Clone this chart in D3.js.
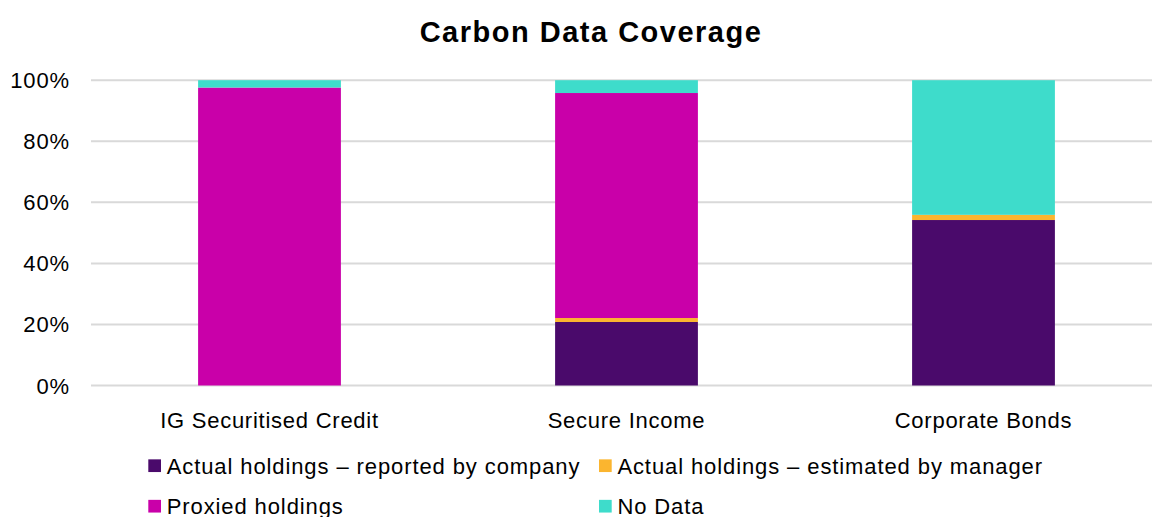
<!DOCTYPE html>
<html>
<head>
<meta charset="utf-8">
<script src="https://cdn.jsdelivr.net/npm/d3@7"></script>
<style>
  body { margin: 0; background: #fff; }
  text { font-family: Arial, "Liberation Sans", sans-serif; fill: #000; }
</style>
</head>
<body>
<script>
// chart data
const categories = ["IG Securitised Credit", "Secure Income", "Corporate Bonds"];
const seriesNames = ["Actual holdings \u2013 reported by company", "Actual holdings \u2013 estimated by manager", "Proxied holdings", "No Data"];
const reported = [0, 20.8, 54.2];
const estimated = [0, 1.3, 1.7];
const proxied = [97.6, 73.7, 0];
const noData = [2.4, 4.2, 44.1];
const yTicks = [0, 20, 40, 60, 80, 100];
const colors = ["#4a0a6b", "#fbb52f", "#c900a9", "#3edccb"];

const W = 1152, H = 517;

let svg = d3.select('body')
      .append('svg')
      .attr('width', W)
      .attr('height', H);

let rows = categories.map((c, i) => ({
  cat: c,
  s0: reported[i], s1: estimated[i], s2: proxied[i], s3: noData[i]
}));
let keys = ["s0", "s1", "s2", "s3"];
let stacked = d3.stack().keys(keys)(rows);

let x = d3.scaleBand().domain(categories).range([91, 1162]).padding(0);
let y = d3.scaleLinear().domain([0, 100]).range([385.5, 80.2]);

// gridlines
svg.append('g')
  .selectAll('line')
  .data(yTicks)
  .join('line')
  .attr('x1', 91).attr('x2', 1162)
  .attr('y1', d => y(d)).attr('y2', d => y(d))
  .style('stroke', '#d9d9d9')
  .style('stroke-width', 2);

// y tick labels
svg.append('g')
  .selectAll('text')
  .data(yTicks)
  .join('text')
  .attr('x', 70)
  .attr('y', d => y(d) + 8)
  .attr('text-anchor', 'end')
  .style('font-size', '22px')
  .style('letter-spacing', '0.9px')
  .text(d => d + '%');

// bars
let bw = x.bandwidth() * 0.4;
svg.append('g')
  .selectAll('g')
  .data(stacked)
  .join('g')
  .attr('fill', (d, i) => colors[i])
  .selectAll('rect')
  .data(d => d)
  .join('rect')
  .attr('x', d => x(d.data.cat) + (x.bandwidth() - bw) / 2)
  .attr('width', bw)
  .attr('y', d => y(d[1]))
  .attr('height', d => y(d[0]) - y(d[1]));

// category labels
svg.append('g')
  .selectAll('text')
  .data(categories)
  .join('text')
  .attr('x', d => x(d) + x.bandwidth() / 2)
  .attr('y', 428)
  .attr('text-anchor', 'middle')
  .style('font-size', '22px')
  .style('letter-spacing', '0.75px')
  .text(d => d);

// title
svg.append('text')
  .attr('x', 591)
  .attr('y', 42)
  .attr('text-anchor', 'middle')
  .style('font-size', '29px')
  .style('font-weight', 'bold')
  .style('letter-spacing', '1.5px')
  .text('Carbon Data Coverage');

// legend
let legendPos = [[148.3, 465.7], [599, 465.7], [148.3, 506.2], [599, 506.2]];
let lg = svg.append('g')
  .selectAll('g')
  .data(seriesNames)
  .join('g')
  .attr('transform', (d, i) => `translate(${legendPos[i][0]},${legendPos[i][1]})`);
lg.append('rect')
  .attr('x', 0).attr('y', -6.35)
  .attr('width', 12.7).attr('height', 12.7)
  .attr('fill', (d, i) => colors[i]);
lg.append('text')
  .attr('x', 18.4)
  .attr('y', 7.8)
  .style('font-size', '22px')
  .style('letter-spacing', '0.9px')
  .text(d => d);
</script>
</body>
</html>
